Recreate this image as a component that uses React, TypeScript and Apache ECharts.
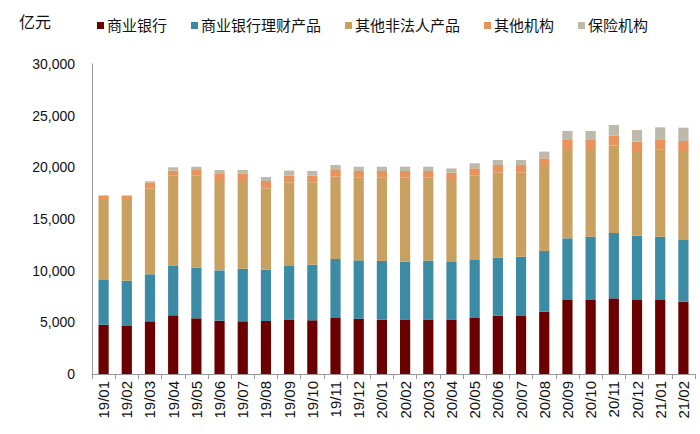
import React, { useEffect, useRef } from "react";
import * as echarts from "echarts";

const categories = [
  "19/01", "19/02", "19/03", "19/04", "19/05", "19/06", "19/07", "19/08", "19/09", "19/10", "19/11", "19/12",
  "20/01", "20/02", "20/03", "20/04", "20/05", "20/06", "20/07", "20/08", "20/09", "20/10", "20/11", "20/12",
  "21/01", "21/02",
];

const commercialBanks = [4770, 4650, 5100, 5680, 5390, 5160, 5100, 5130, 5230, 5200, 5420, 5350, 5260, 5230, 5230, 5230, 5480, 5650, 5610, 6030, 7160, 7160, 7320, 7160, 7160, 7000];
const bankWealthProducts = [4330, 4380, 4550, 4770, 4900, 4870, 5090, 4970, 5220, 5380, 5710, 5650, 5680, 5640, 5740, 5610, 5550, 5610, 5740, 5870, 5970, 6130, 6330, 6230, 6130, 5970];
const otherNonLegalProducts = [7740, 7810, 8300, 8750, 8910, 8650, 8490, 7870, 8100, 7970, 7970, 8000, 8060, 8130, 8030, 7930, 8160, 8220, 8130, 8230, 8550, 8390, 8450, 8190, 8450, 8610];
const otherInstitutions = [410, 410, 600, 480, 540, 740, 740, 710, 650, 650, 640, 650, 650, 650, 650, 710, 710, 750, 750, 740, 970, 970, 960, 900, 910, 970];
const insuranceInstitutions = [50, 50, 100, 320, 320, 320, 320, 380, 480, 450, 490, 410, 410, 410, 410, 420, 490, 480, 480, 650, 870, 870, 1040, 1130, 1220, 1290];

const seriesNames = ["商业银行", "商业银行理财产品", "其他非法人产品", "其他机构", "保险机构"];
const seriesData = [commercialBanks, bankWealthProducts, otherNonLegalProducts, otherInstitutions, insuranceInstitutions];
const colors = ["#6B0000", "#3A8BA3", "#C8A160", "#E8925C", "#BDBAAA"];

const yTicks = { min: 0, max: 30000, interval: 5000 };
const unitLabel = "亿元";

const FONT = "'Liberation Sans', Arial, 'Noto Sans CJK SC', sans-serif";

export default function App() {
  const ref = useRef<HTMLDivElement>(null);

  useEffect(() => {
    if (!ref.current) return;
    const chart = echarts.init(ref.current, undefined, { renderer: "svg" });
    chart.setOption({
      animation: false,
      color: colors,
      textStyle: { fontFamily: FONT },
      title: {
        text: unitLabel,
        left: 14,
        top: 9,
        textStyle: { fontSize: 16, fontWeight: "normal", color: "#111", fontFamily: FONT },
      },
      legend: {
        left: 92,
        top: 13,
        icon: "rect",
        itemWidth: 7,
        itemHeight: 7,
        itemGap: 24,
        textStyle: { fontSize: 15, color: "#111", fontFamily: FONT, padding: [0, 0, 0, -2] },
        data: seriesNames,
      },
      grid: { left: 92, right: 5, top: 64, bottom: 60 },
      xAxis: {
        type: "category",
        data: categories,
        boundaryGap: true,
        axisLine: { show: true, lineStyle: { color: "#999", width: 1 } },
        axisTick: { show: true, alignWithLabel: false, length: 5, lineStyle: { color: "#999" } },
        axisLabel: {
          rotate: 90,
          interval: 0,
          fontSize: 15,
          color: "#111",
          margin: 7,
          fontFamily: FONT,
        },
      },
      yAxis: {
        type: "value",
        min: yTicks.min,
        max: yTicks.max,
        interval: yTicks.interval,
        splitLine: { show: false },
        axisLine: { show: true, lineStyle: { color: "#999", width: 1 } },
        axisTick: { show: false },
        axisLabel: {
          fontSize: 14,
          color: "#111",
          margin: 17,
          fontFamily: FONT,
          formatter: (v: number) => v.toLocaleString("en-US"),
        },
      },
      series: seriesNames.map((name, i) => ({
        name,
        type: "bar",
        stack: "total",
        barWidth: "44%",
        data: seriesData[i],
        itemStyle: { color: colors[i] },
      })),
    });
    return () => chart.dispose();
  }, []);

  return (
    <div
      ref={ref}
      style={{ position: "fixed", left: 0, top: 0, width: 700, height: 434, background: "#fff" }}
    />
  );
}
